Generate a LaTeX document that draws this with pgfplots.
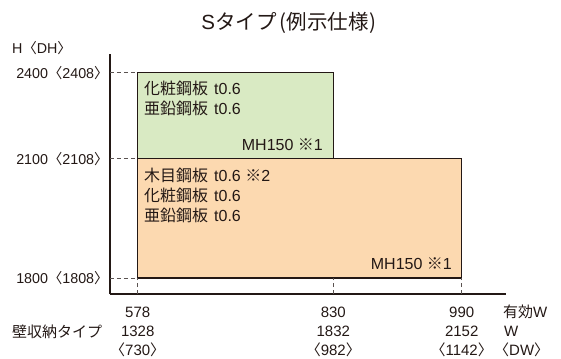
\documentclass[border=0pt]{standalone}
\usepackage{pgfplots}
\pgfplotsset{compat=1.18}
\usepackage{fontspec}
\setmainfont{Liberation Sans}
\newfontfamily\cjk{Noto Sans CJK JP}
\definecolor{gfill}{HTML}{D9EAC3}
\definecolor{ofill}{HTML}{FCD9B0}
\definecolor{ink}{HTML}{231815}
\begin{document}
\begin{tikzpicture}
\begin{axis}[
  scale only axis,
  width=396bp, height=240bp,
  x coord trafo/.code={\pgfmathparse{#1>830 ? 830+(#1-830)*1.0339 : #1}},
  x coord inv trafo/.code={\pgfmathparse{#1>830 ? 830+(#1-830)/1.0339 : #1}},
  y coord trafo/.code={\pgfmathparse{#1>2100 ? 2100+(#1-2100)*0.7208 : #1}},
  y coord inv trafo/.code={\pgfmathparse{#1>2100 ? 2100+(#1-2100)/0.7208 : #1}},
  xmin=542.3, xmax=1045.2,
  ymin=1759.8, ymax=2465.2,
  axis x line*=bottom, axis y line*=left,
  axis line style={-, line width=1.3bp, draw=ink},
  major tick length=0pt,
  xtick={578,830,990},
  xticklabels={{578\\1328\\{\cjk 〈}730{\cjk 〉}},{830\\1832\\{\cjk 〈}982{\cjk 〉}},{990\\2152\\{\cjk 〈}1142{\cjk 〉}}},
  xticklabel style={align=center, font=\fontsize{15bp}{19bp}\selectfont, text=ink, yshift=-10bp},
  ytick={1800,2100,2400},
  yticklabels={{1800{\cjk 〈}1808{\cjk 〉}},{2100{\cjk 〈}2108{\cjk 〉}},{2400{\cjk 〈}2408{\cjk 〉}}},
  yticklabel style={font=\fontsize{14.3bp}{16bp}\selectfont, text=ink, xshift=2bp},
  clip=false,
]
\addplot[fill=ofill, draw=ink, line width=1.3bp] coordinates {(578,1800) (990,1800) (990,2100) (578,2100)} -- cycle;
\addplot[fill=gfill, draw=ink, line width=1.3bp] coordinates {(578,2100) (830,2100) (830,2400) (578,2400)} -- cycle;
\addplot[draw=ink!75, line width=0.8bp, dash pattern=on 4bp off 3bp] coordinates {(542.3,2400) (578,2400)};
\addplot[draw=ink!75, line width=0.8bp, dash pattern=on 4bp off 3bp] coordinates {(542.3,2100) (578,2100)};
\addplot[draw=ink!75, line width=0.8bp, dash pattern=on 4bp off 3bp] coordinates {(542.3,1800) (578,1800)};
\addplot[draw=ink!75, line width=0.8bp, dash pattern=on 4bp off 3bp] coordinates {(578,1759.8) (578,1800)};
\addplot[draw=ink!75, line width=0.8bp, dash pattern=on 4bp off 3bp] coordinates {(830,1759.8) (830,1800)};
\addplot[draw=ink!75, line width=0.8bp, dash pattern=on 4bp off 3bp] coordinates {(990,1759.8) (990,1800)};
\coordinate (SW) at (rel axis cs:0,0);
\end{axis}
\begin{scope}[every node/.style={inner sep=0pt, text=ink, font=\fontsize{16bp}{20bp}\selectfont}]
\node[anchor=west] at ([shift={(34bp,206bp)}]SW) {{\cjk 化粧鋼板}\hspace{6bp}t0.6};
\node[anchor=west] at ([shift={(34bp,186bp)}]SW) {{\cjk 亜鉛鋼板}\hspace{6bp}t0.6};
\node[anchor=east] at ([shift={(213bp,149bp)}]SW) {MH150 {\cjk ※}1};
\node[anchor=west] at ([shift={(34bp,119bp)}]SW) {{\cjk 木目鋼板}\hspace{6bp}t0.6 {\cjk ※}2};
\node[anchor=west] at ([shift={(34bp,99bp)}]SW) {{\cjk 化粧鋼板}\hspace{6bp}t0.6};
\node[anchor=west] at ([shift={(34bp,79bp)}]SW) {{\cjk 亜鉛鋼板}\hspace{6bp}t0.6};
\node[anchor=east] at ([shift={(342bp,30bp)}]SW) {MH150 {\cjk ※}1};
\end{scope}
\begin{scope}[every node/.style={inner sep=0pt, text=ink, font=\fontsize{15bp}{16bp}\selectfont}]
\node[anchor=west, font=\fontsize{14.3bp}{16bp}\selectfont] at ([shift={(-98bp,246bp)}]SW) {H{\cjk 〈}DH{\cjk 〉}};
\node[anchor=west] at ([shift={(-98bp,-37.5bp)}]SW) {\cjk 壁収納タイプ};
\node[anchor=west] at ([shift={(393bp,-18bp)}]SW) {{\cjk 有効}W};
\node[anchor=west] at ([shift={(394bp,-37.5bp)}]SW) {W};
\node[anchor=west] at ([shift={(384bp,-56bp)}]SW) {{\cjk 〈}DW{\cjk 〉}};
\node[font=\fontsize{20.5bp}{22bp}\selectfont] at ([shift={(179bp,271bp)}]SW) {S{\cjk タイプ\hspace{3bp}(例示仕様\hspace{1bp})}};
\end{scope}
\pgfresetboundingbox
\path[use as bounding box] ([shift={(-110bp,-65bp)}]SW) rectangle ([shift={(451bp,294bp)}]SW);
\end{tikzpicture}
\end{document}
